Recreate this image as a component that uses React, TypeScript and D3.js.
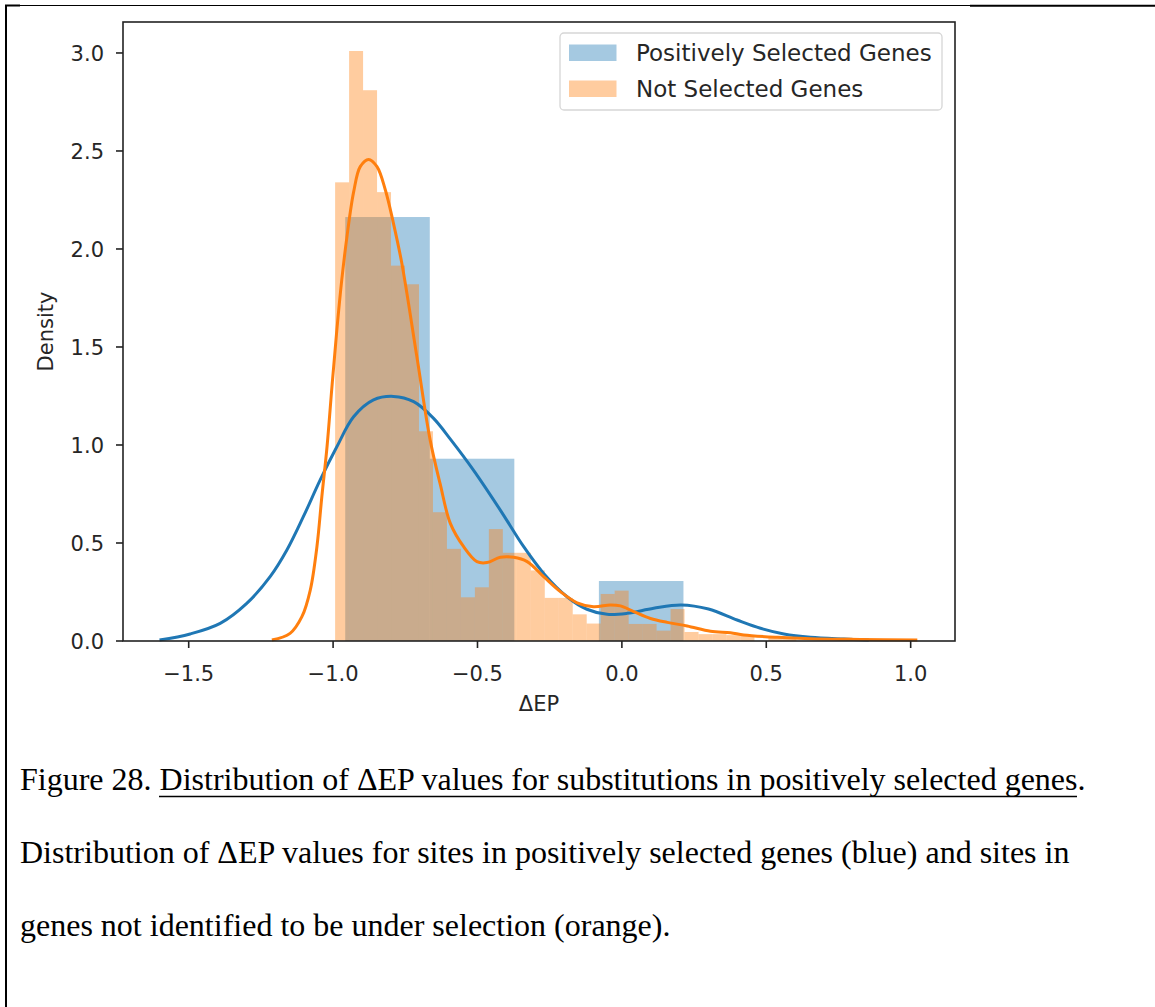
import React from 'react';
import * as d3 from 'd3';

// Tick values
const xTicks = [-1.5, -1.0, -0.5, 0.0, 0.5, 1.0];
const yTicks = [0.0, 0.5, 1.0, 1.5, 2.0, 2.5, 3.0];

// Histogram of ΔEP for positively selected genes (density per bin)
const selectedBinStart = -0.958;
const selectedBinWidth = 0.2928;
const selectedDensity = [2.163, 0.93, 0.0, 0.306];

// Histogram of ΔEP for genes not under selection (density per bin)
const notSelectedBinStart = -0.993;
const notSelectedBinWidth = 0.0484;
const notSelectedDensity = [
  2.34, 3.01, 2.81, 2.29, 1.915, 1.82, 1.07, 0.657, 0.47, 0.223,
  0.274, 0.571, 0.45, 0.45, 0.36, 0.22, 0.22, 0.136, 0.089, 0.24,
  0.257, 0.087, 0.087, 0.053, 0.163, 0.046, 0.035, 0.035, 0.03, 0.03,
  0.0, 0.017, 0.017, 0.0, 0.0, 0.0, 0.017,
];

// Kernel density estimate, positively selected genes
const selectedKdeX = [
  -1.601, -1.495, -1.391, -1.299, -1.218, -1.16, -1.103, -1.045, -0.987, -0.929,
  -0.86, -0.791, -0.721, -0.652, -0.594, -0.514, -0.421, -0.34, -0.271, -0.19,
  -0.121, -0.051, 0.018, 0.11, 0.205, 0.3, 0.399, 0.48, 0.561, 0.653, 0.769, 0.855,
];
const selectedKdeY = [
  0.005, 0.036, 0.09, 0.192, 0.328, 0.464, 0.634, 0.821, 0.991, 1.144,
  1.23, 1.248, 1.221, 1.136, 1.03, 0.872, 0.668, 0.481, 0.345, 0.226,
  0.162, 0.136, 0.141, 0.167, 0.184, 0.163, 0.107, 0.065, 0.036, 0.019, 0.01, 0.005,
];

// Kernel density estimate, genes not under selection
const notSelectedKdeX = [
  -1.212, -1.149, -1.108, -1.079, -1.056, -1.039, -1.021, -1.004, -0.987, -0.97,
  -0.952, -0.929, -0.906, -0.877, -0.848, -0.819, -0.791, -0.762, -0.71, -0.664,
  -0.629, -0.594, -0.548, -0.502, -0.467, -0.421, -0.375, -0.328, -0.271, -0.213,
  -0.155, -0.098, -0.04, -0.005, 0.041, 0.099, 0.157, 0.226, 0.307, 0.376,
  0.422, 0.538, 0.653, 0.826, 1.023,
];
const notSelectedKdeY = [
  0.005, 0.039, 0.124, 0.26, 0.481, 0.736, 0.991, 1.297, 1.587, 1.842,
  2.063, 2.29, 2.42, 2.457, 2.42, 2.301, 2.131, 1.927, 1.451, 1.026,
  0.8, 0.6, 0.481, 0.405, 0.4, 0.427, 0.427, 0.405, 0.328, 0.252,
  0.195, 0.175, 0.184, 0.179, 0.15, 0.115, 0.095, 0.077, 0.05, 0.042,
  0.031, 0.019, 0.012, 0.008, 0.005,
];

const legendLabels = ['Positively Selected Genes', 'Not Selected Genes'];

const BLUE = '#1f77b4';
const ORANGE = '#ff7f0e';

const frame = { left: 123, right: 955, top: 22, bottom: 641 };

const x = d3.scaleLinear().domain([-1.7275, 1.1535]).range([frame.left, frame.right]);
const y = d3.scaleLinear().domain([0, 3.158]).range([frame.bottom, frame.top]);
const fmt = d3.format('.1f');

function bins(start: number, width: number, dens: number[]) {
  return dens.map((d, i) => ({ x0: start + i * width, x1: start + (i + 1) * width, d }));
}

const kdeLine = d3
  .line<[number, number]>()
  .x((p) => x(p[0]))
  .y((p) => y(p[1]))
  .curve(d3.curveCatmullRom.alpha(0.5));

export default function App() {
  const blueBins = bins(selectedBinStart, selectedBinWidth, selectedDensity);
  const orangeBins = bins(notSelectedBinStart, notSelectedBinWidth, notSelectedDensity);
  const blueKde = selectedKdeX.map((v, i) => [v, selectedKdeY[i]] as [number, number]);
  const orangeKde = notSelectedKdeX.map((v, i) => [v, notSelectedKdeY[i]] as [number, number]);
  const sans = "'DejaVu Sans', sans-serif";
  const serif = "'Liberation Serif', 'Times New Roman', serif";

  const barRects = (list: { x0: number; x1: number; d: number }[], color: string, prefix: string) =>
    list.map((b, i) => (
      <rect
        key={prefix + i}
        x={x(b.x0)}
        y={y(b.d)}
        width={x(b.x1) - x(b.x0)}
        height={y(0) - y(b.d)}
        fill={color}
        fillOpacity={0.4}
      />
    ));

  return (
    <div style={{ position: 'absolute', left: 0, top: 0 }}>
      <svg width={1155} height={1007} style={{ display: 'block', background: '#fff' }}>
        {/* page frame */}
        <line x1={6} y1={1007} x2={6} y2={5} stroke="#000" strokeWidth={2} />
        <line x1={5} y1={5.5} x2={970} y2={5.5} stroke="#000" strokeWidth={1} />
        <line x1={5} y1={5.5} x2={20} y2={5.5} stroke="#000" strokeWidth={2} />
        <line x1={970} y1={5.7} x2={1155} y2={5.7} stroke="#000" strokeWidth={2} />

        {/* histograms (patches sit below the density lines) */}
        {barRects(blueBins, BLUE, 'b')}
        {barRects(orangeBins, ORANGE, 'o')}

        {/* density curves */}
        <path d={kdeLine(blueKde) || ''} fill="none" stroke={BLUE} strokeWidth={3} strokeLinejoin="round" />
        <path d={kdeLine(orangeKde) || ''} fill="none" stroke={ORANGE} strokeWidth={3} strokeLinejoin="round" />

        {/* axes frame */}
        <rect
          x={frame.left}
          y={frame.top}
          width={frame.right - frame.left}
          height={frame.bottom - frame.top}
          fill="none"
          stroke="#222"
          strokeWidth={1.6}
        />

        {/* x ticks */}
        {xTicks.map((t) => (
          <g key={'xt' + t}>
            <line x1={x(t)} x2={x(t)} y1={frame.bottom} y2={frame.bottom + 7} stroke="#222" strokeWidth={1.6} />
            <text x={x(t)} y={681} textAnchor="middle" fontFamily={sans} fontSize={21} fill="#262626">
              {fmt(t)}
            </text>
          </g>
        ))}

        {/* y ticks */}
        {yTicks.map((t) => (
          <g key={'yt' + t}>
            <line x1={frame.left - 7} x2={frame.left} y1={y(t)} y2={y(t)} stroke="#222" strokeWidth={1.6} />
            <text x={104} y={y(t) + 7.6} textAnchor="end" fontFamily={sans} fontSize={21} fill="#262626">
              {fmt(t)}
            </text>
          </g>
        ))}

        {/* axis labels */}
        <text x={(frame.left + frame.right) / 2} y={711} textAnchor="middle" fontFamily={sans} fontSize={21} fill="#262626">
          ΔEP
        </text>
        <text
          transform={`translate(53, ${(frame.top + frame.bottom) / 2}) rotate(-90)`}
          textAnchor="middle"
          fontFamily={sans}
          fontSize={21}
          fill="#262626"
        >
          Density
        </text>

        {/* legend */}
        <rect x={560} y={33} width={382} height={77} rx={4} fill="#fff" fillOpacity={0.8} stroke="#d6d6d6" strokeWidth={1.3} />
        {legendLabels.map((lab, i) => (
          <g key={lab}>
            <rect x={569} y={44.5 + i * 36} width={47.5} height={16.5} fill={i === 0 ? BLUE : ORANGE} fillOpacity={0.4} />
            <text x={636} y={60.5 + i * 36} fontFamily={sans} fontSize={23} fill="#262626">
              {lab}
            </text>
          </g>
        ))}

        {/* caption */}
        <text x={20} y={790} fontFamily={serif} fontSize={32} fill="#000">
          <tspan>Figure 28. </tspan>
          <tspan>Distribution of ΔEP values for substitutions in positively selected genes</tspan>
          <tspan>.</tspan>
        </text>
        <line x1={159} x2={1077} y1={796.5} y2={796.5} stroke="#000" strokeWidth={1.6} />
        <text x={20} y={863} fontFamily={serif} fontSize={32} fill="#000">
          Distribution of ΔEP values for sites in positively selected genes (blue) and sites in
        </text>
        <text x={20} y={936} fontFamily={serif} fontSize={32} fill="#000">
          genes not identified to be under selection (orange).
        </text>
      </svg>
    </div>
  );
}
